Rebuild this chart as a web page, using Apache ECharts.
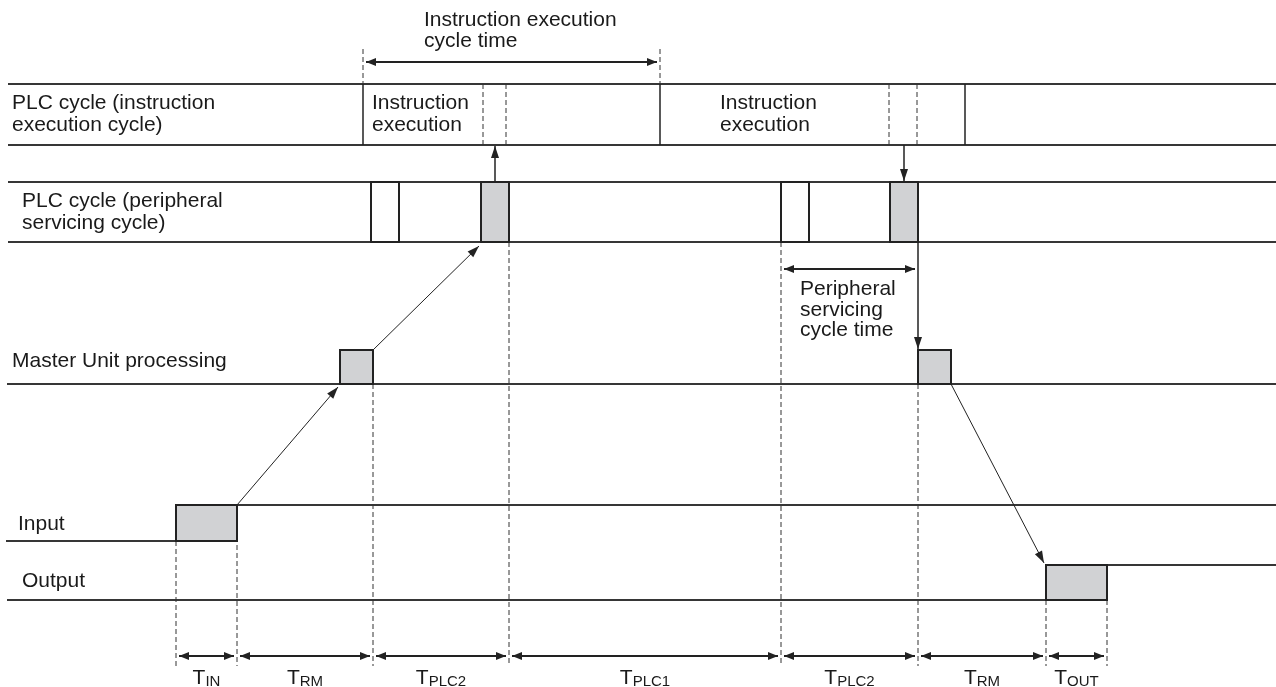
<!DOCTYPE html>
<html>
<head>
<meta charset="utf-8">
<title>PLC cycle timing</title>
<script src="https://cdn.jsdelivr.net/npm/echarts@6/dist/echarts.min.js"></script>
<style>
  html, body { margin: 0; padding: 0; background: #fff; }
  #chart { width: 1276px; height: 687px; }
</style>
</head>
<body>
<div id="chart"></div>
<script>
// diagram extent (time runs along x, lanes along y)
const xFrom = 8
const xTo = 1276

// lane levels [top, bottom]
const instrBand = [84, 145]
const periphBand = [182, 242]
const masterLane = [350, 384]
const inputLane = [505, 541]
const outputLane = [565, 600]

// events on the time axis
const instrCycleEdges = [363, 660, 965]
const instrIoEdges = [483, 506, 889, 917]
const periphIdle = [[371, 399], [781, 809]]
const periphIo = [[481, 509], [890, 918]]
const masterSlots = [[340, 373], [918, 951]]
const inputPulse = [176, 237]
const outputPulse = [1046, 1107]

// delay breakdown along the bottom
const timeMarks = [176, 237, 373, 509, 781, 918, 1046, 1107]
const periodSub = ['IN', 'RM', 'PLC2', 'PLC1', 'PLC2', 'RM', 'OUT']

// texts
const laneLabels = [
  'PLC cycle (instruction\nexecution cycle)',
  'PLC cycle (peripheral\nservicing cycle)',
  'Master Unit processing',
  'Input',
  'Output'
]
const instrLabel = 'Instruction\nexecution'
const instrCycleLabel = 'Instruction execution\ncycle time'
const periphCycleLabel = 'Peripheral\nservicing\ncycle time'

const INK = '#222'
const FONT = '"Liberation Sans", Arial, Helvetica, sans-serif'

function head(tip, from, len, wid) {
  const dx = tip[0] - from[0]
  const dy = tip[1] - from[1]
  const d = Math.hypot(dx, dy) || 1
  const ux = dx / d
  const uy = dy / d
  const bx = tip[0] - ux * len
  const by = tip[1] - uy * len
  return {
    type: 'polygon',
    shape: { points: [tip, [bx - uy * wid / 2, by + ux * wid / 2], [bx + uy * wid / 2, by - ux * wid / 2]] },
    style: { fill: INK }
  }
}

function segRender(style) {
  return function(params, api) {
    const a = api.coord([api.value(0), api.value(1)])
    const b = api.coord([api.value(2), api.value(3)])
    return { type: 'line', shape: { x1: a[0], y1: a[1], x2: b[0], y2: b[1] }, style: style }
  }
}

function arrowRender(len, wid, lw) {
  return function(params, api) {
    const a = api.coord([api.value(0), api.value(1)])
    const b = api.coord([api.value(2), api.value(3)])
    const children = [{ type: 'line', shape: { x1: a[0], y1: a[1], x2: b[0], y2: b[1] }, style: { stroke: INK, lineWidth: lw } }]
    if (api.value(4)) children.push(head(a, b, len, wid))
    if (api.value(5)) children.push(head(b, a, len, wid))
    return { type: 'group', children }
  }
}

function rectRender(fill) {
  return function(params, api) {
    const p0 = api.coord([api.value(0), api.value(2)])
    const p1 = api.coord([api.value(1), api.value(3)])
    return {
      type: 'rect',
      shape: { x: p0[0], y: p0[1], width: p1[0] - p0[0], height: p1[1] - p0[1] },
      style: { fill: fill, stroke: INK, lineWidth: 2 }
    }
  }
}

function textRender(texts, lh, align) {
  return function(params, api) {
    const p = api.coord([api.value(0), api.value(1)])
    return {
      type: 'text',
      x: p[0],
      y: p[1],
      style: {
        text: texts[params.dataIndex],
        fontFamily: FONT,
        fontSize: 21,
        lineHeight: lh,
        fill: '#1a1a1a',
        align: align || 'left',
        verticalAlign: 'middle'
      }
    }
  }
}

function periodRender(params, api) {
  const p = api.coord([api.value(0), api.value(1)])
  return {
    type: 'text',
    x: p[0],
    y: p[1],
    style: {
      text: '{a|T}{b|' + periodSub[params.dataIndex] + '}',
      align: 'center',
      verticalAlign: 'middle',
      fill: '#1a1a1a',
      rich: {
        a: { fontFamily: FONT, fontSize: 21, lineHeight: 22, verticalAlign: 'bottom' },
        b: { fontFamily: FONT, fontSize: 15, lineHeight: 17, verticalAlign: 'bottom' }
      }
    }
  }
}

// ---- build data from the arrays above ----
const bandMid = b => (b[0] + b[1]) / 2

// solid thick lines: bands and signal levels
const levelLines = [
  [xFrom, instrBand[0], xTo, instrBand[0]],
  [xFrom, instrBand[1], xTo, instrBand[1]],
  [xFrom, periphBand[0], xTo, periphBand[0]],
  [xFrom, periphBand[1], xTo, periphBand[1]],
  [xFrom - 1, masterLane[1], xTo, masterLane[1]],
  [xFrom - 2, inputLane[1], inputPulse[0], inputLane[1]],
  [inputPulse[1], inputLane[0], xTo, inputLane[0]],
  [xFrom - 1, outputLane[1], outputPulse[0], outputLane[1]],
  [outputPulse[1], outputLane[0], xTo, outputLane[0]]
]

const cycleEdges = instrCycleEdges.map(x => [x, instrBand[0], x, instrBand[1]])

const guideTops = [inputLane[1], inputLane[0], masterLane[1], periphBand[1], periphBand[1], masterLane[1], outputLane[1], outputLane[1]]
const guideBottom = 666
const guides = timeMarks.map((x, i) => [x, guideTops[i], x, guideBottom])
  .concat(instrIoEdges.map(x => [x, instrBand[0], x, instrBand[1]]))
  .concat([instrCycleEdges[0], instrCycleEdges[1]].map(x => [x, 49, x, instrBand[0]]))

const dimY = 656
const dimArrows = timeMarks.slice(0, -1).map((x, i) => [x + 3, dimY, timeMarks[i + 1] - 3, dimY, 1, 1])
dimArrows.push([instrCycleEdges[0] + 3, 62, instrCycleEdges[1] - 3, 62, 1, 1])
dimArrows.push([periphIdle[1][0] + 3, 269, periphIo[1][1] - 3, 269, 1, 1])

const ioA = periphIo[0]
const ioB = periphIo[1]
const flowArrows = [
  [inputPulse[1], inputLane[0], masterSlots[0][0] - 2, masterLane[1] + 3, 0, 1],
  [masterSlots[0][1], masterLane[0], ioA[0] - 2, periphBand[1] + 4, 0, 1]
]
const feedArrows = [
  [bandMid(ioA), periphBand[0], bandMid(ioA), instrBand[1] + 1, 0, 1],
  [bandMid(ioB), instrBand[1], bandMid(ioB), periphBand[0] - 1, 0, 1],
  [ioB[1], periphBand[1], masterSlots[1][0], masterLane[0] - 1, 0, 1]
]
flowArrows.push([masterSlots[1][1], masterLane[1], outputPulse[0] - 2, outputLane[0] - 2, 0, 1])

const greyBoxes = periphIo.map(s => [s[0], s[1], periphBand[0], periphBand[1]])
  .concat(masterSlots.map(s => [s[0], s[1], masterLane[0], masterLane[1]]))
  .concat([[inputPulse[0], inputPulse[1], inputLane[0], inputLane[1]]])
  .concat([[outputPulse[0], outputPulse[1], outputLane[0], outputLane[1]]])
const whiteBoxes = periphIdle.map(s => [s[0], s[1], periphBand[0], periphBand[1]])

const laneLabelPos = [
  [12, bandMid(instrBand)],
  [22, bandMid(periphBand)],
  [12, 361],
  [18, 524],
  [22, 581]
]
const instrLabelPos = [[372, bandMid(instrBand)], [720, bandMid(instrBand)]]
const periodPos = timeMarks.slice(0, -1).map((x, i) => [(x + timeMarks[i + 1]) / 2, 678])

const chart = echarts.init(document.getElementById('chart'))
chart.setOption({
  animation: false,
  backgroundColor: '#fff',
  grid: { left: 0, right: 0, top: 0, bottom: 0 },
  xAxis: { type: 'value', min: 0, max: 1276, show: false },
  yAxis: { type: 'value', min: 0, max: 687, inverse: true, show: false },
  series: [
    { type: 'custom', name: 'levels', data: levelLines, renderItem: segRender({ stroke: '#363636', lineWidth: 2 }) },
    { type: 'custom', name: 'cycleEdges', data: cycleEdges, renderItem: segRender({ stroke: INK, lineWidth: 1.5 }) },
    { type: 'custom', name: 'guides', data: guides, renderItem: segRender({ stroke: '#333', lineWidth: 1, lineDash: [5, 3] }) },
    { type: 'custom', name: 'white', data: whiteBoxes, renderItem: rectRender('#fff') },
    { type: 'custom', name: 'grey', data: greyBoxes, renderItem: rectRender('#d1d2d4') },
    { type: 'custom', name: 'flow', data: flowArrows, renderItem: arrowRender(12, 8, 1) },
    { type: 'custom', name: 'feed', data: feedArrows, renderItem: arrowRender(12, 8, 1.5) },
    { type: 'custom', name: 'dims', data: dimArrows, renderItem: arrowRender(10, 8, 2) },
    { type: 'custom', name: 'laneLabels', data: laneLabelPos, renderItem: textRender(laneLabels, 22) },
    { type: 'custom', name: 'instrLabels', data: instrLabelPos, renderItem: textRender([instrLabel, instrLabel], 22) },
    { type: 'custom', name: 'instrCycle', data: [[424, 31]], renderItem: textRender([instrCycleLabel], 21) },
    { type: 'custom', name: 'periphCycle', data: [[800, 310]], renderItem: textRender([periphCycleLabel], 20.5) },
    { type: 'custom', name: 'periods', data: periodPos, renderItem: periodRender }
  ]
})
</script>
</body>
</html>
